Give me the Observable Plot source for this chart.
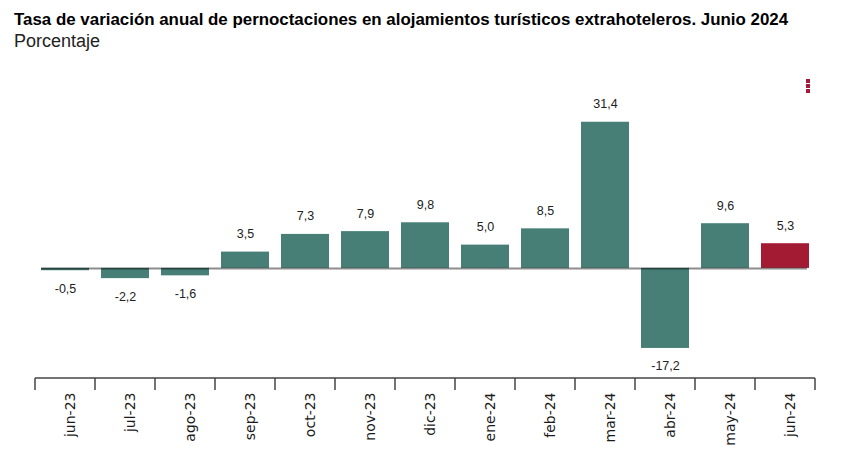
<!DOCTYPE html>
<html>
<head>
<meta charset="utf-8">
<script src="https://cdn.jsdelivr.net/npm/d3@7"></script>
<script src="https://cdn.jsdelivr.net/npm/@observablehq/plot@0.6"></script>
<style>
  body { margin: 0; background: #fff; }
  #wrap { position: relative; width: 846px; height: 459px; overflow: hidden; }
  #header { position: relative; height: 60px; }
  #title { position: absolute; left: 14px; top: 10px; font-family: "Liberation Sans", Arial, sans-serif; font-weight: bold; font-size: 16.9px; color: #000; white-space: nowrap; }
  #subtitle { position: absolute; left: 14px; top: 31px; font-family: "Liberation Sans", Arial, sans-serif; font-size: 18px; color: #222; white-space: nowrap; }
  #menu { position: absolute; left: 806px; top: 79px; width: 4px; }
  #menu span { display: block; width: 4px; height: 4px; background: #a31a3a; margin-bottom: 1px; }
  #chart svg { display: block; }
</style>
</head>
<body>
<div id="wrap">
  <div id="header">
    <div id="title">Tasa de variación anual de pernoctaciones en alojamientos turísticos extrahoteleros. Junio 2024</div>
    <div id="subtitle">Porcentaje</div>
  </div>
  <div id="menu"><span></span><span></span><span></span></div>
  <div id="chart"></div>
</div>
<script>
const months = ["jun-23","jul-23","ago-23","sep-23","oct-23","nov-23","dic-23","ene-24","feb-24","mar-24","abr-24","may-24","jun-24"];
const values = [-0.5, -2.2, -1.6, 3.5, 7.3, 7.9, 9.8, 5.0, 8.5, 31.4, -17.2, 9.6, 5.3];
const highlightMonth = "jun-24";

const colors = { base: "#477e76", highlight: "#a31a33" };
const fmt = v => v.toFixed(1).replace(".", ",");

const data = months.map((m, i) => ({ month: m, value: values[i], label: fmt(values[i]) }));

const W = 846, H = 399;
const ml = 35, mr = 31, mt = 45, mb = 81;
const paddingInner = 0.2, paddingOuter = 0.1;

// boundary ticks drawn with the chart's x scale
function boundaryTicks(index, scales, values, dimensions) {
  const x = scales.x;
  const step = x.step ? x.step() : x.bandwidth() / (1 - paddingInner);
  const gap = step * paddingInner / 2;
  const yb = dimensions.height - dimensions.marginBottom;
  const g = d3.create("svg:g");
  const xs = months.map(m => x(m) - gap);
  xs.push(x(months[months.length - 1]) + x.bandwidth() + gap);
  g.selectAll("line").data(xs).join("line")
    .attr("x1", d => d).attr("x2", d => d)
    .attr("y1", yb).attr("y2", yb + 12)
    .attr("stroke", "#444").attr("stroke-width", 1.5);
  g.append("line")
    .attr("x1", xs[0]).attr("x2", xs[xs.length - 1])
    .attr("y1", yb).attr("y2", yb)
    .attr("stroke", "#444").attr("stroke-width", 1.5);
  return g.node();
}

const chart = Plot.plot({
  width: W,
  height: H,
  marginLeft: ml,
  marginRight: mr,
  marginTop: mt,
  marginBottom: mb,
  x: { type: "band", domain: months, paddingInner, paddingOuter, axis: null },
  y: { domain: [-23.66, 35], axis: null },
  style: { background: "transparent" },
  marks: [
    Plot.barY(data, { x: "month", y: "value", fill: d => d.month === highlightMonth ? colors.highlight : colors.base }),
    Plot.ruleY([0], { stroke: "#000", strokeOpacity: 0.45, strokeWidth: 2, insetLeft: 6, insetRight: 8 }),
    Plot.text(data.filter(d => d.value >= 0), { x: "month", y: "value", text: "label", dy: -18, fontSize: 12.5, fontFamily: "Liberation Sans, Arial, sans-serif", fill: "#222" }),
    Plot.text(data.filter(d => d.value < 0), { x: "month", y: "value", text: "label", dy: 18, fontSize: 12.5, fontFamily: "Liberation Sans, Arial, sans-serif", fill: "#222" }),
    Plot.text(months, { x: d => d, text: d => d, frameAnchor: "bottom", rotate: -90, textAnchor: "end", dy: 14, dx: 9, fontSize: 14, fontFamily: "DejaVu Sans, sans-serif", fill: "#1a1a1a" }),
    boundaryTicks
  ]
});
document.getElementById("chart").appendChild(chart);
</script>
</body>
</html>
